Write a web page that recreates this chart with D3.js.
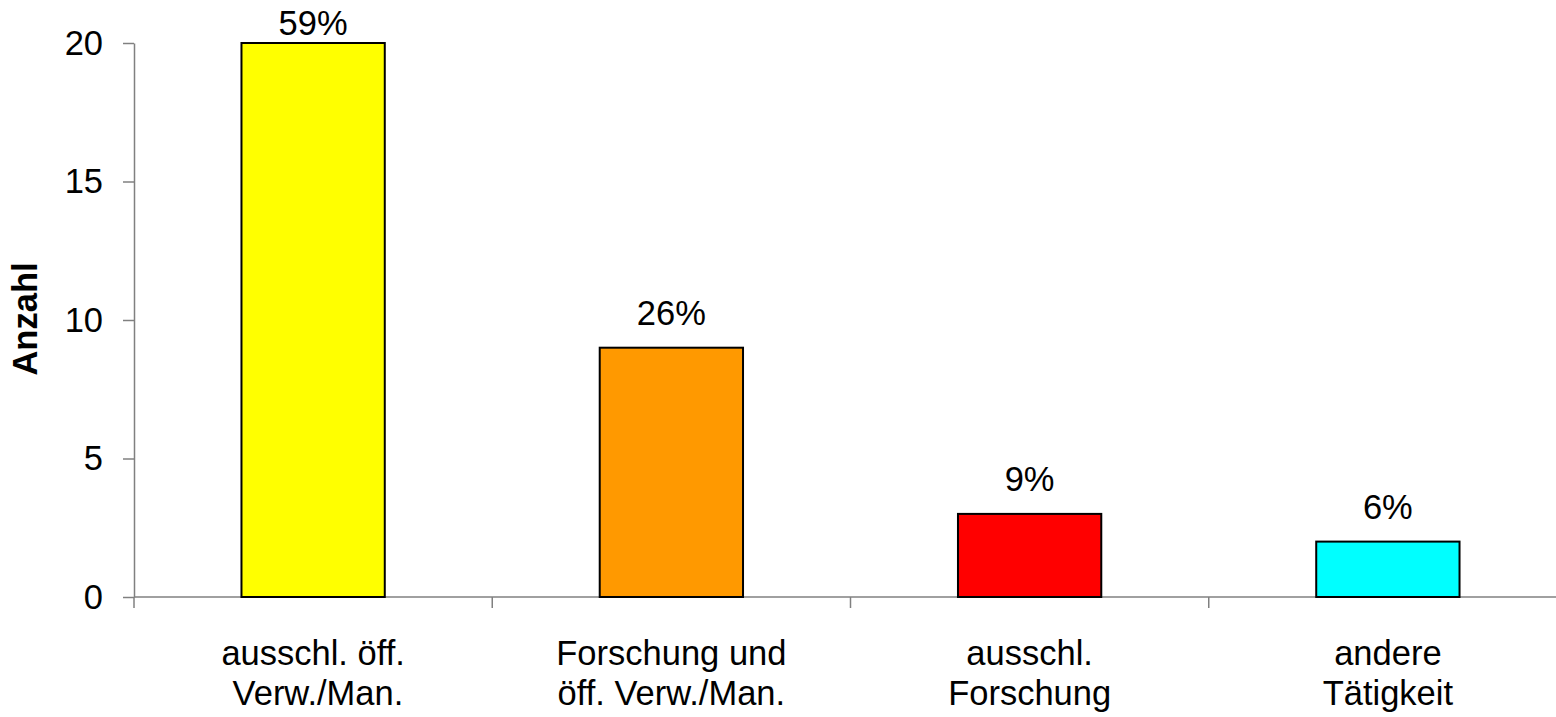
<!DOCTYPE html>
<html><head><meta charset="utf-8">
<script src="https://cdn.jsdelivr.net/npm/d3@7"></script>
<style>body{margin:0;background:#fff}svg{display:block}</style>
</head><body>
<svg id="c" width="1556" height="717"></svg>
<script>
const categories = [["ausschl. öff.", " Verw./Man."], ["Forschung und", "öff. Verw./Man."], ["ausschl.", "Forschung"], ["andere", "Tätigkeit"]];
const values = [20, 9, 3, 2];
const percentLabels = ["59%", "26%", "9%", "6%"];
const colors = ["#FFFF00", "#FF9900", "#FF0000", "#00FFFF"];
const yTicks = [0, 5, 10, 15, 20];

const svg = d3.select("#c");
const font = "'Liberation Sans', Arial, sans-serif";
const fs = 34.5;
const plotLeft = 134, plotRight = 1567, plotTop = 43, plotBottom = 597;

const x = d3.scaleBand().domain(d3.range(values.length)).range([plotLeft, plotRight]).paddingInner(0.6).paddingOuter(0.3);
const xb = d3.scaleBand().domain(d3.range(values.length)).range([plotLeft, plotRight]);
const y = d3.scaleLinear().domain([0, 20]).range([plotBottom, plotTop]);

// y axis
const ya = svg.append("g").attr("transform", `translate(${plotLeft},0)`)
  .call(d3.axisLeft(y).tickValues(yTicks).tickSize(11).tickPadding(20).tickSizeOuter(0));
ya.attr("font-size", null).attr("font-family", null);
ya.select(".domain").attr("stroke", "#808080").attr("stroke-width", 1.5);
ya.selectAll(".tick line").attr("stroke", "#808080").attr("stroke-width", 1.5);
ya.selectAll(".tick text").style("font-family", font).style("font-size", fs + "px").attr("fill", "#000");

// x axis baseline and ticks at band boundaries
svg.append("line").attr("x1", plotLeft).attr("x2", plotRight).attr("y1", y(0)).attr("y2", y(0))
  .attr("stroke", "#808080").attr("stroke-width", 1.5);
const bounds = d3.range(values.length + 1).map(i => i < values.length ? xb(i) : xb(values.length - 1) + xb.bandwidth());
svg.selectAll(".xt").data(bounds).join("line").attr("class", "xt")
  .attr("x1", d => d).attr("x2", d => d).attr("y1", y(0)).attr("y2", y(0) + 11)
  .attr("stroke", "#808080").attr("stroke-width", 1.5);

// bars
svg.selectAll(".bar").data(values).join("rect").attr("class", "bar")
  .attr("x", (d, i) => x(i)).attr("width", x.bandwidth())
  .attr("y", d => y(d)).attr("height", d => y(0) - y(d))
  .attr("fill", (d, i) => colors[i]).attr("stroke", "#000").attr("stroke-width", 2);

// percent labels
svg.selectAll(".pl").data(values).join("text").attr("class", "pl")
  .attr("x", (d, i) => x(i) + x.bandwidth() / 2)
  .attr("y", d => Math.max(y(d) - 23, 35))
  .attr("text-anchor", "middle").style("font-family", font).style("font-size", fs + "px")
  .text((d, i) => percentLabels[i]);

// category labels
const cl = svg.selectAll(".cl").data(categories).join("text").attr("class", "cl")
  .attr("text-anchor", "middle").style("font-family", font).style("font-size", fs + "px")
  .attr("xml:space", "preserve");
cl.each(function(d, i) {
  const t = d3.select(this);
  d.forEach((line, j) => {
    t.append("tspan").attr("x", xb(i) + xb.bandwidth() / 2).attr("y", 665 + j * 40).text(line);
  });
});

// y title
svg.append("text").attr("transform", "translate(37,319) rotate(-90)")
  .attr("text-anchor", "middle").style("font-family", font).style("font-size", fs + "px").attr("font-weight", "bold")
  .text("Anzahl");
</script>
</body></html>
